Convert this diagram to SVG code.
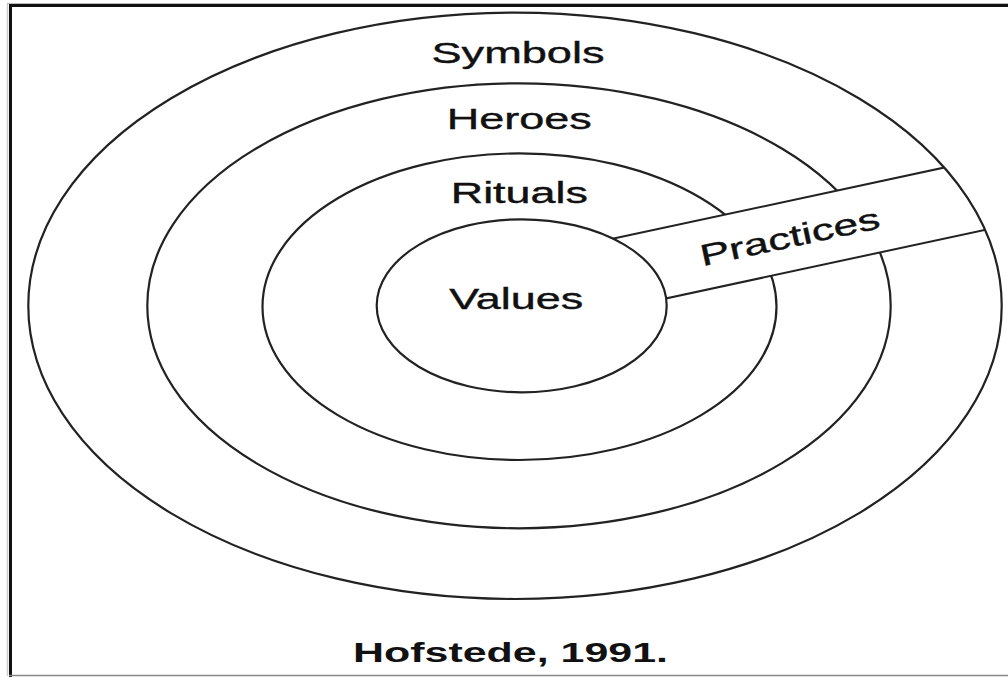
<svg xmlns="http://www.w3.org/2000/svg" width="1008" height="677" viewBox="0 0 1008 677">
  <style>
    .ring { fill: none; stroke: #222; stroke-width: 2.2; }
    .edge { stroke: #222; stroke-width: 2; fill: none; }
    .label { font-family: "Liberation Sans", Arial, sans-serif; font-size: 30px; fill: #111; stroke: #111; stroke-width: 0.4; text-anchor: middle; }
    .credit { font-family: "Liberation Sans", Arial, sans-serif; font-size: 28px; font-weight: bold; fill: #111; text-anchor: middle; }
  </style>
  <defs>
    <clipPath id="outerClip">
      <ellipse cx="515" cy="305.8" rx="486.7" ry="293.2"/>
    </clipPath>
  </defs>

  <rect x="0" y="0" width="1008" height="677" fill="#fff"/>

  <!-- frame -->
  <g id="frame">
    <line x1="7" y1="3.5" x2="1008" y2="3.5" stroke="#bbb" stroke-width="1"/>
    <line x1="7.5" y1="4" x2="7.5" y2="676" stroke="#ccc" stroke-width="1.5"/>
    <line x1="9" y1="5.5" x2="1008" y2="5.5" stroke="#111" stroke-width="3"/>
    <line x1="10.5" y1="4" x2="10.5" y2="677" stroke="#111" stroke-width="3"/>
    <line x1="9" y1="675.5" x2="1008" y2="675.5" stroke="#888" stroke-width="1.5"/>
  </g>

  <!-- middle rings -->
  <g id="heroes-ring">
    <ellipse class="ring" cx="519" cy="305.8" rx="371.7" ry="222.5"/>
  </g>
  <g id="rituals-ring">
    <ellipse class="ring" cx="519.5" cy="306.7" rx="257" ry="153.3"/>
  </g>

  <!-- practices band cut through the outer layers -->
  <g id="practices" clip-path="url(#outerClip)">
    <polygon points="560,321.2 1010,224.5 1010,153.4 560,250.1" fill="#fff"/>
    <g id="connectors">
      <line class="edge" x1="560" y1="321.2" x2="1010" y2="224.5"/>
      <line class="edge" x1="560" y1="250.1" x2="1010" y2="153.4"/>
    </g>
  </g>

  <g id="symbols-ring">
    <ellipse class="ring" cx="515" cy="305.8" rx="486.7" ry="293.2"/>
  </g>

  <g id="values-core">
    <ellipse cx="521.7" cy="305.8" rx="145" ry="86.5" fill="#fff" stroke="#222" stroke-width="2.2"/>
  </g>

  <!-- labels -->
  <g id="labels">
    <text class="label" x="518" y="62.5" textLength="173" lengthAdjust="spacingAndGlyphs">Symbols</text>
    <text class="label" x="519.2" y="129" textLength="145" lengthAdjust="spacingAndGlyphs">Heroes</text>
    <text class="label" x="519.3" y="203.3" textLength="137" lengthAdjust="spacingAndGlyphs">Rituals</text>
    <text class="label" x="516.2" y="309.3" textLength="134" lengthAdjust="spacingAndGlyphs">Values</text>
    <text class="label" transform="translate(792 247) rotate(-12.1)" x="0" y="0" textLength="183" lengthAdjust="spacingAndGlyphs">Practices</text>
    <text class="credit" x="510.5" y="661.7" textLength="315" lengthAdjust="spacingAndGlyphs">Hofstede, 1991.</text>
  </g>
</svg>
